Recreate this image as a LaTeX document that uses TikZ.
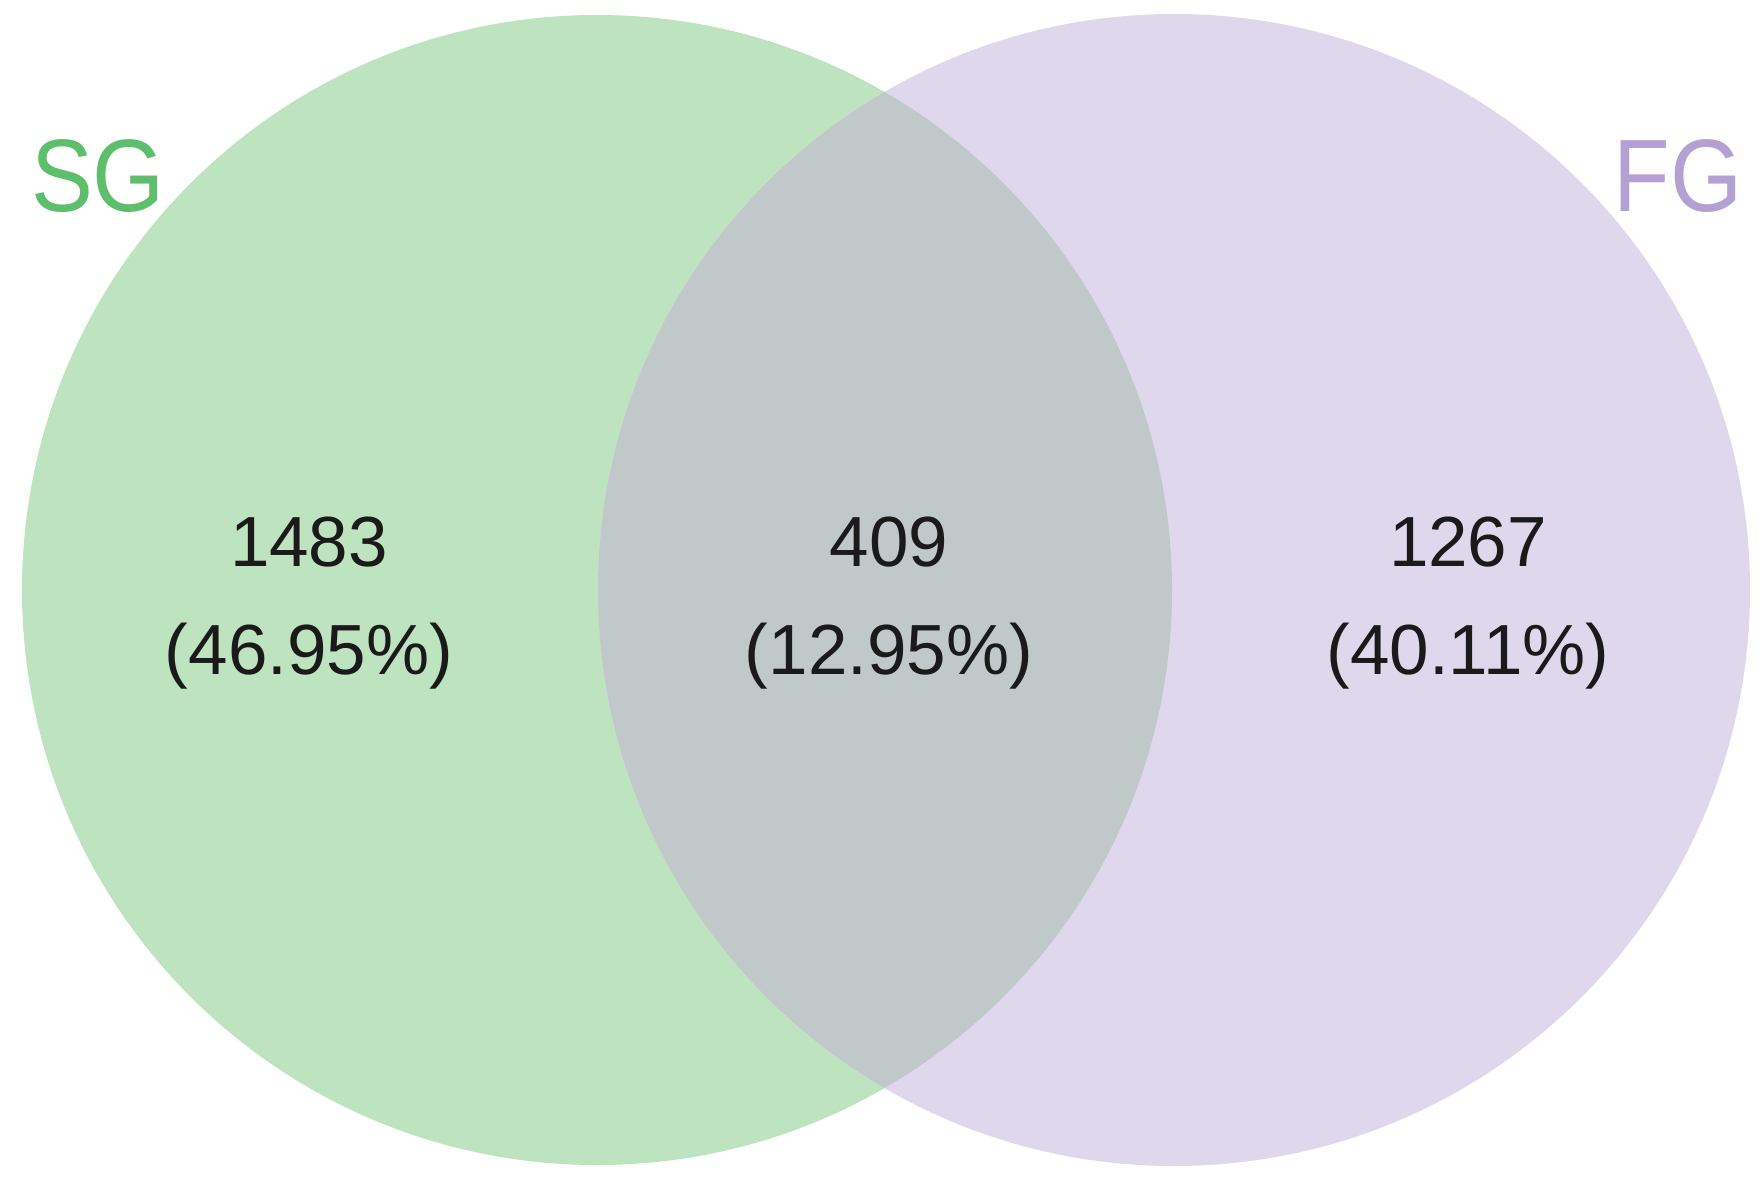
\documentclass[tikz,border=0pt]{standalone}
\usepackage{fontspec}
\setmainfont{Liberation Sans}
\definecolor{sgfill}{HTML}{BEE3BF}
\definecolor{fgfill}{HTML}{DFD8EC}
\definecolor{bothfill}{HTML}{C1C8C9}
\definecolor{sgtext}{HTML}{5DBE6B}
\definecolor{fgtext}{HTML}{B3A1D3}
\definecolor{numtext}{HTML}{1A1A1A}
\begin{document}
\begin{tikzpicture}[x=1pt,y=-1pt,
  numlbl/.style={font=\fontsize{71}{80}\selectfont, text=numtext, anchor=base, inner sep=0pt},
  setlbl/.style={font=\fontsize{103}{110}\selectfont, anchor=base, inner sep=0pt, xscale=0.9, transform shape}]
\useasboundingbox (0,0) rectangle (1764,1179);
\fill[white] (0,0) rectangle (1764,1179);
\coordinate (cl) at (597,590);
\coordinate (cr) at (1174,590);
\fill[sgfill] (cl) circle[radius=575];
\fill[fgfill] (cr) circle[radius=576];
\begin{scope}
  \clip (cl) circle[radius=575];
  \fill[bothfill] (cr) circle[radius=576];
\end{scope}
\node[setlbl, text=sgtext] (sg) at (98,211) {SG};
\node[setlbl, text=fgtext] (fg) at (1678,211) {FG};
\node[numlbl] (a1) at (309,566) {1483};
\node[numlbl] (a2) at (309,674) {(46.95\%)};
\node[numlbl] (b1) at (889,566) {409};
\node[numlbl] (b2) at (889,674) {(12.95\%)};
\node[numlbl] (c1) at (1468,566) {1267};
\node[numlbl] (c2) at (1468,674) {(40.11\%)};
\end{tikzpicture}
\end{document}
